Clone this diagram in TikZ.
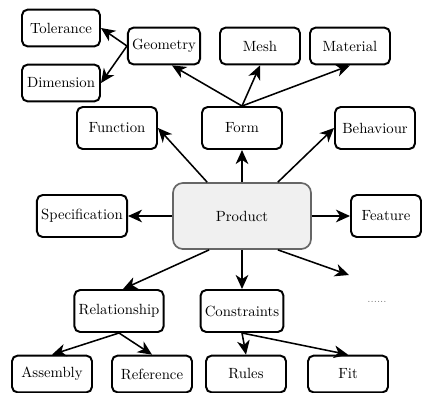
\documentclass[tikz,border=0pt]{standalone}
\usetikzlibrary{positioning, arrows.meta}
\tikzset{
	block/.style={
		rectangle,
		draw,
		line width=1.4pt,
		rounded corners=4pt,
		minimum width=2cm,
		minimum height=1.05cm,
		inner xsep=3pt,
		text=black,
		font=\fontsize{10.5}{12}\selectfont,
	},
	topblock/.style={
		block,
		minimum height=0.92cm,
	},
	core/.style={
		rectangle,
		draw=black!60,
		line width=1.2pt,
		rounded corners=7pt,
		fill=black!6,
		minimum width=3.45cm,
		minimum height=1.65cm,
		text=black,
		font=\fontsize{10.5}{12}\selectfont,
	},
	note/.style={
		text=black!55,
		font=\fontsize{7}{8}\selectfont,
		inner sep=1pt,
	},
}
\begin{document}
\begin{tikzpicture}[node distance=2cm, >={Stealth[length=10pt, width=9pt, inset=3pt]}, line width=1.1pt]
		\useasboundingbox (0,0) rectangle (10.625,-9.8);
		
		\node [core] (product) at (6.05,-5.4) {Product};
		\node [block, above of = product, node distance=2.2cm] (form) {Form};
		\node [block, left of = form, node distance=3.125cm] (function) {Function};
		\node [block, right of = form, node distance=3.325cm] (behaviour) {Behaviour};
		\node [block, left of = product, node distance=4cm] (spec) {Specification};
		\node [block, right of = product, node distance=3.6cm, minimum width=1.75cm] (feature) {Feature};
		\node [topblock, above of = form, node distance=2.05cm, xshift=0.45cm] (mesh) {Mesh};
		\node [topblock, right of = mesh, node distance=2.25cm] (material) {Material};
		\node [topblock, left of = mesh, node distance=2.4cm, minimum width=1.78cm] (geometry) {Geometry};
		\node [topblock, left of = geometry, node distance=2.575cm, yshift=0.45cm, minimum width=1.95cm] (tolerance) {Tolerance};
		\node [topblock, below of = tolerance, node distance=1.375cm, minimum width=1.95cm] (dimension) {Dimension};
		\node [block, below of = product, node distance=2.375cm] (constr) {Constraints};
		\node [block, left of = constr, node distance=3.075cm] (relation) {Relationship};
		\node [topblock, below of = relation, node distance=1.575cm, xshift=-1.675cm] (assembly) {Assembly};
		\node [topblock, right of = assembly, node distance=2.5cm] (reference) {Reference};
		\node [topblock, below of = constr, node distance=1.575cm, xshift=0.1cm] (rules) {Rules};
		\node [topblock, right of = rules, node distance=2.55cm] (fit) {Fit};
		\node [note, right of = constr, node distance=3.375cm, yshift=0.225cm] (more) {......};
		\coordinate (moretip) at (8.725,-6.875);
		
		\draw [->] (geometry.west) to (tolerance.east);
		\draw [->] (geometry.west) to (dimension.east);
		\draw [->] (form.north) to ([xshift=0.2cm]geometry.south);
		\draw [->] (form.north) to (mesh.south);
		\draw [->] (form.north) to (material.south);
		\draw [->] ([xshift=0.875cm]product.north west) to (function.east);
		\draw [->] (product) to (form);
		\draw [->] ([xshift=-0.85cm]product.north east) to (behaviour.west);
		\draw [->] (product) to (spec);
		\draw [->] (product) to (feature);
		\draw [->] ([xshift=0.925cm]product.south west) to ([xshift=0.1cm]relation.north);
		\draw [->] (product) to (constr);
		\draw [->] ([xshift=-0.85cm]product.south east) to (moretip);
		\draw [->] (relation.south) to (assembly.north);
		\draw [->] (relation.south) to (reference.north);
		\draw [->] (constr.south) to (rules.north);
		\draw [->] (constr.south) to (fit.north);
	\end{tikzpicture}
\end{document}
